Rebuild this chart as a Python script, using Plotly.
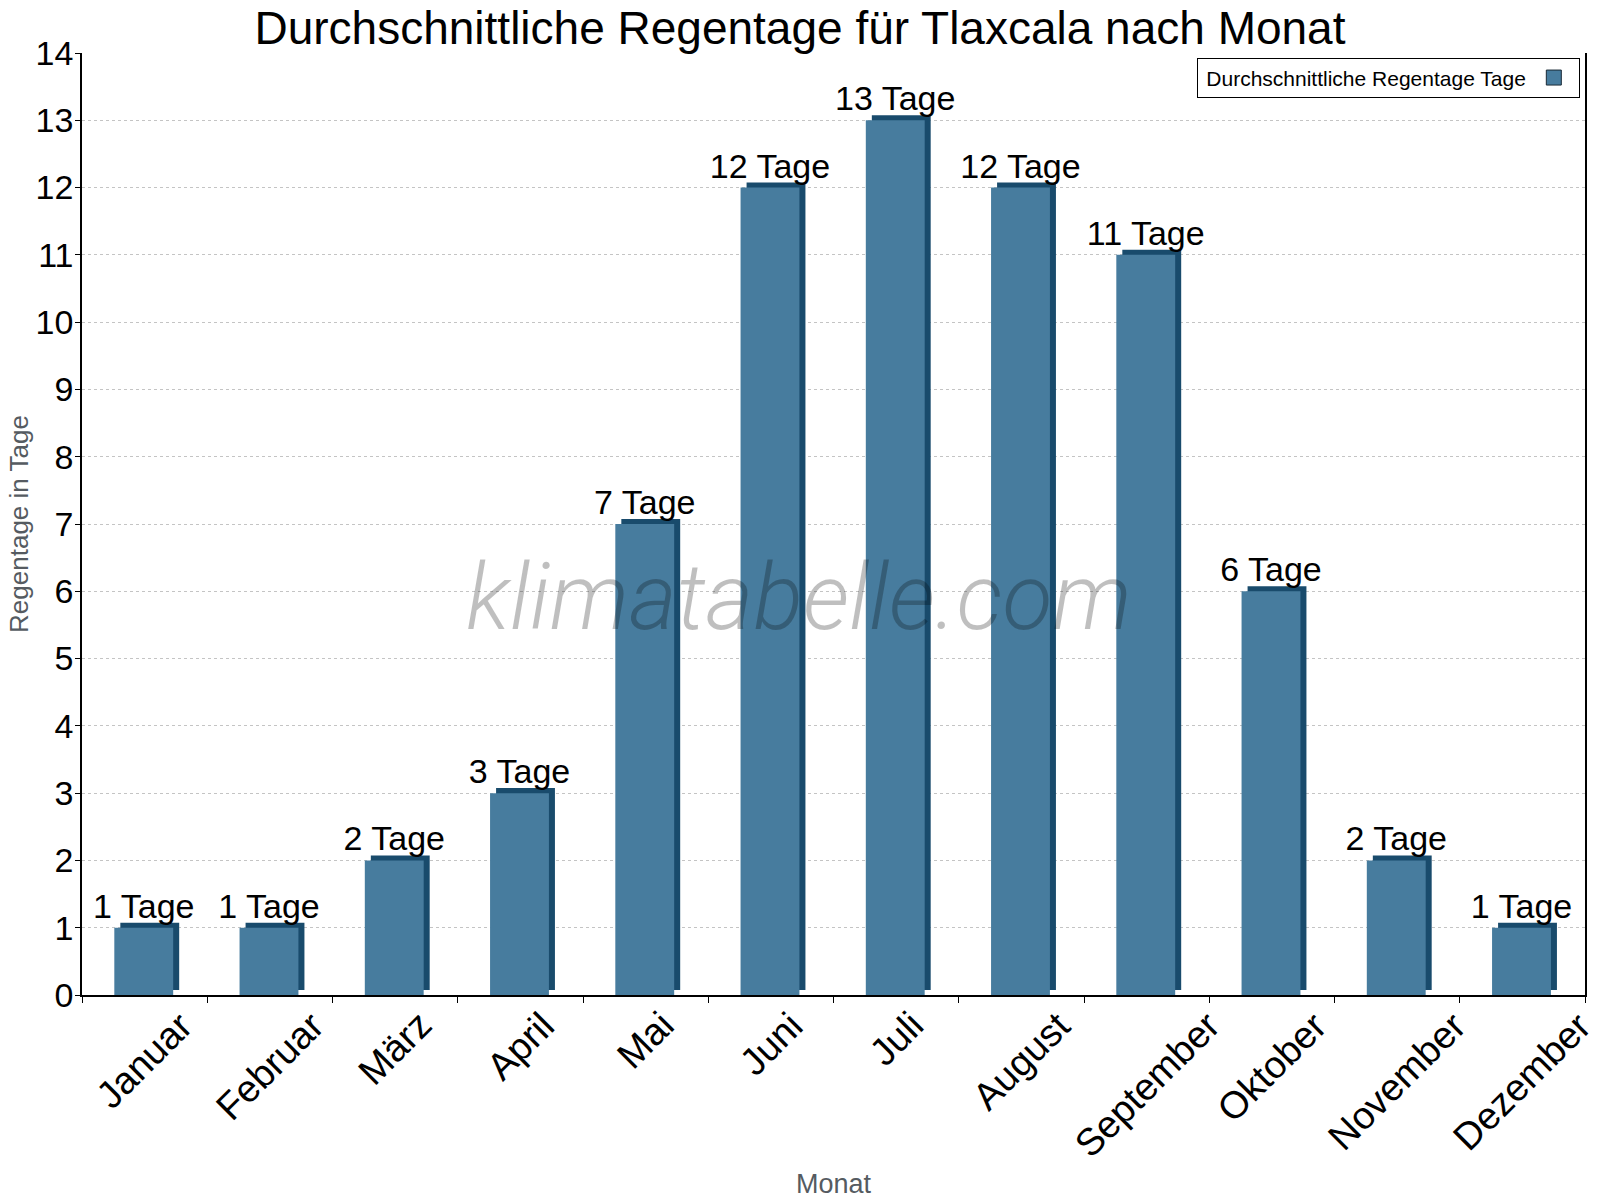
import plotly.graph_objects as go

months = ["Januar", "Februar", "März", "April", "Mai", "Juni", "Juli",
          "August", "September", "Oktober", "November", "Dezember"]
rain_days = [1, 1, 2, 3, 7, 12, 13, 12, 11, 6, 2, 1]
value_labels = [f"{v} Tage" for v in rain_days]
y_ticks = list(range(0, 15))
legend_name = "Durchschnittliche Regentage Tage"

FONT = "Liberation Sans, Arial, sans-serif"
MAIN = "#477C9E"
DARK = "#194B6C"

x_idx = list(range(len(months)))
bar_w = 0.47
depth_x = 0.048
depth_y = 0.075

fig = go.Figure()

# 3D depth (side/top face) drawn behind main bar
fig.add_trace(go.Bar(
    x=x_idx, y=rain_days, base=depth_y,
    width=bar_w, offset=-bar_w / 2 - 0.007 + depth_x,
    marker=dict(color=DARK, line=dict(width=0)),
    showlegend=False, hoverinfo="skip",
))
# Main front face with value labels
fig.add_trace(go.Bar(
    x=x_idx, y=rain_days,
    width=bar_w, offset=-bar_w / 2 - 0.007,
    marker=dict(color=MAIN, line=dict(width=0)),
    text=value_labels, textposition="outside", cliponaxis=False,
    constraintext="none",
    textfont=dict(family=FONT, size=34, color="#000000"),
    showlegend=False, hoverinfo="skip",
))
# Legend-only swatch
fig.add_trace(go.Scatter(
    x=[None], y=[None], mode="markers", name="",
    marker=dict(symbol="square", size=15, color=MAIN, line=dict(color="#1a2a36", width=1)),
    showlegend=True, hoverinfo="skip",
))

# ticks at category boundaries, labels drawn as rotated annotations centred on categories
tickvals = [i - 0.5 for i in range(len(months) + 1)]

month_annotations = [
    dict(text=m, x=i, xref="x", y=-0.0065, yref="paper",
         xanchor="center", yanchor="top", textangle=-45, showarrow=False,
         font=dict(family=FONT, size=38, color="#000000"))
    for i, m in enumerate(months)
]

fig.update_layout(
    width=1600, height=1200,
    paper_bgcolor="white", plot_bgcolor="white",
    margin=dict(l=82, r=15, t=53, b=205),
    font=dict(family=FONT, color="#000000"),
    barmode="overlay",
    title=dict(
        text="Durchschnittliche Regentage für Tlaxcala nach Monat",
        x=0.5, xanchor="center", y=0.9905, yanchor="top",
        font=dict(family=FONT, size=46, color="#000000"),
    ),
    xaxis=dict(
        range=[-0.5, 11.5], tickmode="array", tickvals=tickvals,
        ticktext=[""] * len(tickvals), showticklabels=True,
        ticks="outside", ticklen=6, tickcolor="#000000",
        showline=True, linecolor="#000000", linewidth=1.5,
        showgrid=False, zeroline=False,
        title=dict(text="Monat", font=dict(family=FONT, size=27, color="#555b61"), standoff=170),
        automargin=False,
    ),
    yaxis=dict(
        range=[0, 14], tickmode="array", tickvals=y_ticks,
        tickfont=dict(family=FONT, size=34, color="#000000"),
        ticks="outside", ticklen=5, tickcolor="#000000",
        ticklabelstandoff=-5,
        showline=True, linecolor="#000000", linewidth=1.5, mirror=True,
        showgrid=True, gridcolor="#c4c4c4", griddash="dot", gridwidth=1,
        zeroline=False,
        title=dict(text="Regentage in Tage", font=dict(family=FONT, size=26, color="#555b61"), standoff=0),
        automargin=False,
    ),
    legend=dict(
        x=0.997, xanchor="right", y=0.995, yanchor="top",
        bgcolor="white", bordercolor="#000000", borderwidth=1,
        title=dict(text="\u00a0" + legend_name, side="left",
                   font=dict(family=FONT, size=21, color="#000000")),
        font=dict(family=FONT, size=19),
        itemwidth=30, tracegroupgap=0,
    ),
    annotations=month_annotations + [dict(
        text="klimatabelle.com", xref="paper", yref="paper",
        x=0.477, y=0.4225, showarrow=False,
        font=dict(family="Roboto", size=92, style="italic", weight=300,
                  color="rgba(0,0,0,0.25)"),
    )],
    hovermode=False,
)

fig.write_html("out.html")
